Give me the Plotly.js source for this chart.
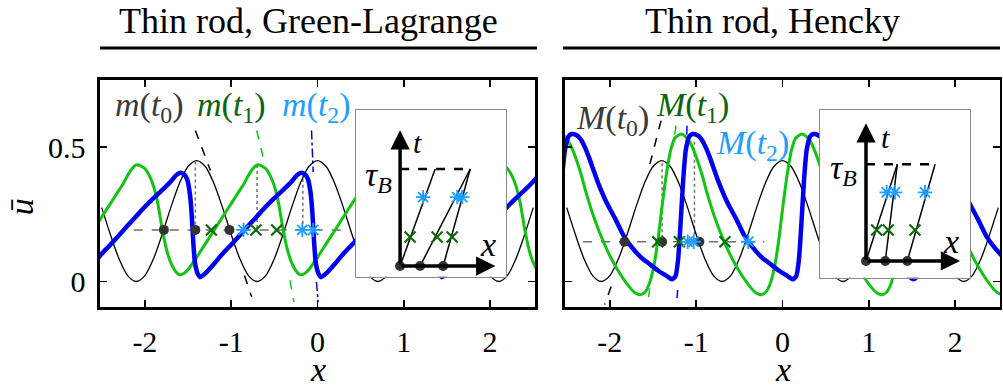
<!DOCTYPE html>
<html>
<head>
<meta charset="utf-8">
<script src="https://cdn.plot.ly/plotly-3.0.1.min.js"></script>
<style>
  html, body { margin: 0; padding: 0; background: #fff; }
  #chart { width: 1003px; height: 391px; }
</style>
</head>
<body>
<div id="chart"></div>
<script>
// Thin rod: wave profiles u(x) at t0, t1, t2 for two strain measures
var SERIF = 'Liberation Serif, Times New Roman, serif';

// t0 profile (same in both panels)
var t0X = [-2.5,-2.4,-2.3,-2.2,-2.1,-2.0,-1.9,-1.8,-1.7,-1.6,-1.5,-1.4,-1.3,-1.2,-1.1,-1.0,-0.9,-0.8,-0.7,-0.6,-0.5,-0.4,-0.3,-0.2,-0.1,0,
           0.1,0.2,0.3,0.4,0.5,0.6,0.7,0.8,0.9,1.0,1.1,1.2,1.3,1.4,1.5,1.6,1.7,1.8,1.9,2.0,2.1,2.2,2.3,2.4,2.5];
var t0U = [0.275,0.175,0.085,0.022,0,0.022,0.085,0.175,0.275,0.365,0.428,0.45,0.428,0.365,0.275,0.175,0.085,0.022,0,0.022,0.085,0.175,0.275,0.365,0.428,0.45,
           0.428,0.365,0.275,0.175,0.085,0.022,0,0.022,0.085,0.175,0.275,0.365,0.428,0.45,0.428,0.365,0.275,0.175,0.085,0.022,0,0.022,0.085,0.175,0.275];

// Green-Lagrange, t1
var glT1X = [-2.55,-2.5,-2.4,-2.3,-2.25,-2.2,-2.15,-2.1,-2.05,-2.0,-1.95,-1.9,-1.85,-1.8,-1.75,-1.7,-1.65,-1.6,-1.55,-1.5,-1.4,-1.3,-1.2,-1.1,-1.0,
             -0.9,-0.85,-0.8,-0.75,-0.7,-0.65,-0.6,-0.55,-0.5,-0.45,-0.4,-0.35,-0.3,-0.25,-0.2,-0.15,-0.1,0,0.1,0.2,0.3,0.4,0.5,0.55,0.6,
             0.65,0.7,0.75,0.8,0.85,0.9,0.95,1.0,1.05,1.1,1.15,1.2,1.25,1.3,1.4,1.5,1.6,1.7,1.8,1.9,1.95,2.0,2.05,2.1,2.15,2.2,2.25,2.3,2.35,2.4,2.45,2.5,2.55];
var glT1U = [0.215,0.24,0.29,0.34,0.365,0.395,0.42,0.434,0.43,0.42,0.395,0.355,0.29,0.196,0.12,0.07,0.04,0.025,0.03,0.045,0.09,0.14,0.19,0.24,0.29,
             0.34,0.365,0.395,0.42,0.434,0.43,0.42,0.395,0.355,0.29,0.196,0.12,0.07,0.04,0.025,0.03,0.045,0.09,0.14,0.19,0.24,0.29,0.34,0.365,0.395,
             0.42,0.434,0.43,0.42,0.395,0.355,0.29,0.196,0.12,0.07,0.04,0.025,0.03,0.045,0.09,0.14,0.19,0.24,0.29,0.34,0.365,0.395,0.42,0.434,0.43,0.42,0.395,0.355,0.29,0.196,0.12,0.07,0.04];

// Green-Lagrange, t2
var glT2X = [-2.55,-2.5,-2.4,-2.3,-2.2,-2.1,-2.0,-1.9,-1.8,-1.7,-1.64,-1.585,-1.54,-1.51,-1.48,-1.46,-1.44,-1.42,-1.39,-1.36,-1.3,-1.2,-1.1,-1.0,-0.9,
             -0.8,-0.7,-0.6,-0.5,-0.4,-0.3,-0.24,-0.185,-0.14,-0.11,-0.08,-0.06,-0.04,-0.02,0.01,0.04,0.1,0.2,0.3,0.4,0.5,0.6,0.7,0.8,0.9,
             1.0,1.1,1.16,1.215,1.26,1.29,1.32,1.34,1.36,1.38,1.41,1.44,1.5,1.6,1.7,1.8,1.9,2.0,2.1,2.2,2.3,2.4,2.5,2.55];
var glT2U = [0.085,0.103,0.137,0.172,0.208,0.243,0.278,0.31,0.34,0.372,0.395,0.405,0.397,0.38,0.33,0.26,0.15,0.07,0.03,0.016,0.03,0.065,0.103,0.137,0.172,
             0.208,0.243,0.278,0.31,0.34,0.372,0.395,0.405,0.397,0.38,0.33,0.26,0.15,0.07,0.03,0.016,0.03,0.065,0.103,0.137,0.172,0.208,0.243,0.278,0.31,
             0.34,0.372,0.395,0.405,0.397,0.38,0.33,0.26,0.15,0.07,0.03,0.016,0.03,0.065,0.103,0.137,0.172,0.208,0.243,0.278,0.31,0.34,0.372,0.39];

// Hencky, t1
var hkT1X = [-2.55,-2.5,-2.425,-2.375,-2.325,-2.275,-2.175,-2.075,-1.975,-1.875,-1.775,-1.705,-1.645,-1.595,-1.545,-1.495,-1.445,-1.395,-1.345,-1.295,
             -1.245,-1.175,-1.125,-1.075,-1.025,-0.975,-0.925,-0.875,-0.775,-0.675,-0.575,-0.475,-0.375,-0.305,-0.245,-0.195,-0.145,-0.095,-0.045,0.005,
             0.055,0.105,0.155,0.225,0.275,0.325,0.375,0.425,0.475,0.525,0.625,0.725,0.825,0.925,1.025,1.095,1.155,1.205,1.255,1.305,
             1.355,1.405,1.455,1.505,1.555,1.625,1.675,1.725,1.775,1.825,1.875,1.925,2.025,2.125,2.225,2.325,2.425,2.495,2.555];
var hkT1U = [0.547,0.532,0.485,0.44,0.39,0.33,0.23,0.148,0.08,0.025,-0.02,-0.043,-0.049,-0.04,-0.01,0.05,0.15,0.28,0.40,0.49,
             0.535,0.549,0.54,0.52,0.485,0.44,0.39,0.33,0.23,0.148,0.08,0.025,-0.02,-0.043,-0.049,-0.04,-0.01,0.05,0.15,0.28,
             0.40,0.49,0.535,0.549,0.54,0.52,0.485,0.44,0.39,0.33,0.23,0.148,0.08,0.025,-0.02,-0.043,-0.049,-0.04,-0.01,0.05,
             0.15,0.28,0.40,0.49,0.535,0.549,0.54,0.52,0.485,0.44,0.39,0.33,0.23,0.148,0.08,0.025,-0.02,-0.043,-0.049];

// Hencky, t2
var hkT2X = [-2.55,-2.52,-2.48,-2.44,-2.39,-2.34,-2.29,-2.24,-2.19,-2.14,-2.04,-1.94,-1.84,-1.74,-1.64,-1.54,-1.44,-1.34,-1.28,-1.24,
             -1.21,-1.18,-1.15,-1.12,-1.08,-1.04,-0.99,-0.94,-0.89,-0.84,-0.79,-0.74,-0.64,-0.54,-0.44,-0.34,-0.24,-0.14,-0.04,0.06,
             0.12,0.16,0.19,0.22,0.25,0.28,0.32,0.36,0.41,0.46,0.51,0.56,0.61,0.66,0.76,0.86,0.96,1.06,1.16,1.26,
             1.36,1.46,1.52,1.56,1.59,1.62,1.65,1.68,1.72,1.76,1.81,1.86,1.91,1.96,2.01,2.06,2.16,2.26,2.36,2.46,2.56];
var hkT2U = [0.40,0.49,0.54,0.549,0.545,0.53,0.50,0.46,0.415,0.37,0.295,0.235,0.17,0.125,0.09,0.065,0.04,0.02,0.008,0.02,
             0.08,0.22,0.38,0.49,0.54,0.549,0.545,0.53,0.50,0.46,0.415,0.37,0.295,0.235,0.17,0.125,0.09,0.065,0.04,0.02,
             0.008,0.02,0.08,0.22,0.38,0.49,0.54,0.549,0.545,0.53,0.50,0.46,0.415,0.37,0.295,0.235,0.17,0.125,0.09,0.065,
             0.04,0.02,0.008,0.02,0.08,0.22,0.38,0.49,0.54,0.549,0.545,0.53,0.50,0.46,0.415,0.37,0.295,0.235,0.17,0.125,0.09];

// level line with marked crossings
var glLevel = 0.192, glLevelSpan = [-2.13, 0.33];
var glDots = [-1.78, -1.415, -1.02];
var glCrosses = [-1.23, -0.713, -0.473];
var glStars = [-0.858, -0.177, -0.05];
var glDropX = [-1.415, -0.70, -0.17];
var glDropTop = [0.447, 0.434, 0.405];

var hkLevel = 0.148, hkLevelSpan = [-2.31, -0.21];
var hkDots = [-1.83, -1.395, -0.963];
var hkCrosses = [-1.445, -1.195, -0.667];
var hkStars = [-1.098, -1.029, -0.397];
var hkDropX = [-1.395, -1.02];
var hkDropTop = [0.44, 0.52];

// characteristic lines, visible pieces [x0, u0, x1, u1]
var glCharT0 = [[-1.415, 0.562, -1.24, 0.413], [-0.846, 0.022, -0.762, -0.058]];
var glCharT1 = [[-0.704, 0.562, -0.608, 0.432], [-0.319, 0.004, -0.273, -0.077]];
var glCharT2 = [[-0.069, 0.562, -0.05, 0.407], [-0.012, -0.002, 0.008, -0.077]];
var hkCharT0 = [[-1.407, 0.599, -1.56, 0.407], [-1.985, -0.019, -2.06, -0.086]];
var hkCharT1 = [[-1.233, 0.58, -1.27, 0.506], [-1.54, -0.025, -1.553, -0.068]];
var hkCharT2 = [[-1.106, 0.58, -1.114, 0.506], [-1.214, -0.031, -1.222, -0.062]];

// insets: x-t diagram of the three characteristics
var glInsetFoot = [0, 0.206, 0.443], glInsetTop = [0.361, 0.722, 0.722];
var glInsetT1 = 0.30, glInsetX1 = [0.103, 0.381, 0.536];
var glInsetT2 = 0.71, glInsetX2 = [0.237, 0.588, 0.639];
var hkInsetFoot = [0, 0.199, 0.427], hkInsetTop = [0.324, 0.324, 0.714];
var hkInsetT1 = 0.32, hkInsetX1 = [0.110, 0.230, 0.506];
var hkInsetT2 = 0.71, hkInsetX2 = [0.214, 0.300, 0.610];

var xTicks = [-2, -1, 0, 1, 2], xTickText = ['-2', '-1', '0', '1', '2'];
var yTicks = [0, 0.5], yTickText = ['0', '0.5'];

var COL_T0 = '#000000', COL_T1 = '#12C412', COL_T2 = '#0000F0';
var LAB_T0 = '#3a3a3a', LAB_T1 = '#0B650B', LAB_T2 = '#1E9EFF';
var DOT = '#333333', CROSS = '#0B6B0B', STAR = '#1E9EFF', GUIDE = '#6e6e6e';

function pieces(list) {
  var xs = [], ys = [];
  list.forEach(function (p) { xs.push(p[0], p[2], null); ys.push(p[1], p[3], null); });
  return { x: xs, y: ys };
}

function panel(xa, ya, d) {
  var tr = [];
  var dx = [], dy = [];
  d.dropX.forEach(function (v, i) { dx.push(v, v, null); dy.push(d.dropTop[i], d.level, null); });
  tr.push({ x: dx, y: dy, xaxis: xa, yaxis: ya, mode: 'lines', line: { color: GUIDE, width: 1.5, dash: 'dot' } });
  tr.push({ x: d.span, y: [d.level, d.level], xaxis: xa, yaxis: ya, mode: 'lines', line: { color: GUIDE, width: 1.5, dash: 'dash' } });
  [[d.c0, COL_T0, 'dash'], [d.c1, COL_T1, 'dash'], [d.c2, COL_T2, 'dashdot']].forEach(function (c) {
    var s = pieces(c[0]);
    tr.push({ x: s.x, y: s.y, xaxis: xa, yaxis: ya, mode: 'lines', line: { color: c[1], width: 1.5, dash: c[2] } });
  });
  tr.push({ x: t0X, y: t0U, xaxis: xa, yaxis: ya, mode: 'lines', line: { color: COL_T0, width: 1.3, shape: 'spline', smoothing: 0.8 } });
  tr.push({ x: d.x1, y: d.u1, xaxis: xa, yaxis: ya, mode: 'lines', line: { color: COL_T1, width: 3, shape: 'spline', smoothing: 0.6 } });
  tr.push({ x: d.x2, y: d.u2, xaxis: xa, yaxis: ya, mode: 'lines', line: { color: COL_T2, width: 4.5, shape: 'spline', smoothing: 0.6 } });
  var lv = function (arr) { return arr.map(function () { return d.level; }); };
  tr.push({ x: d.dots, y: lv(d.dots), xaxis: xa, yaxis: ya, mode: 'markers', marker: { symbol: 'circle', size: 10, color: DOT } });
  tr.push({ x: d.crosses, y: lv(d.crosses), xaxis: xa, yaxis: ya, mode: 'markers', marker: { symbol: 'x-thin', size: 11, line: { color: CROSS, width: 2.2 } } });
  tr.push({ x: d.stars, y: lv(d.stars), xaxis: xa, yaxis: ya, mode: 'markers', marker: { symbol: 'asterisk', size: 12, line: { color: STAR, width: 1.8 } } });
  return tr;
}

function inset(xa, ya, d) {
  var tr = [], cx = [], cy = [];
  d.foot.forEach(function (v, i) { cx.push(v, d.top[i], null); cy.push(0, 1, null); });
  tr.push({ x: [0, Math.max.apply(null, d.top)], y: [1, 1], xaxis: xa, yaxis: ya, mode: 'lines', line: { color: '#000', width: 2.5, dash: 'dash' } });
  tr.push({ x: cx, y: cy, xaxis: xa, yaxis: ya, mode: 'lines', line: { color: '#000', width: 1.5 } });
  tr.push({ x: d.foot, y: d.foot.map(function () { return 0; }), xaxis: xa, yaxis: ya, mode: 'markers', marker: { symbol: 'circle', size: 10, color: DOT } });
  tr.push({ x: d.x1, y: d.x1.map(function () { return d.t1; }), xaxis: xa, yaxis: ya, mode: 'markers', marker: { symbol: 'x-thin', size: 11, line: { color: CROSS, width: 2.2 } } });
  tr.push({ x: d.x2, y: d.x2.map(function () { return d.t2; }), xaxis: xa, yaxis: ya, mode: 'markers', marker: { symbol: 'asterisk', size: 12, line: { color: STAR, width: 1.8 } } });
  return tr;
}

var traces = [].concat(
  panel('x', 'y', { x1: glT1X, u1: glT1U, x2: glT2X, u2: glT2U, level: glLevel, span: glLevelSpan, dots: glDots, crosses: glCrosses, stars: glStars,
                    dropX: glDropX, dropTop: glDropTop, c0: glCharT0, c1: glCharT1, c2: glCharT2 }),
  panel('x2', 'y2', { x1: hkT1X, u1: hkT1U, x2: hkT2X, u2: hkT2U, level: hkLevel, span: hkLevelSpan, dots: hkDots, crosses: hkCrosses, stars: hkStars,
                      dropX: hkDropX, dropTop: hkDropTop, c0: hkCharT0, c1: hkCharT1, c2: hkCharT2 }),
  inset('x3', 'y3', { foot: glInsetFoot, top: glInsetTop, t1: glInsetT1, x1: glInsetX1, t2: glInsetT2, x2: glInsetX2 }),
  inset('x4', 'y4', { foot: hkInsetFoot, top: hkInsetTop, t1: hkInsetT1, x1: hkInsetX1, t2: hkInsetT2, x2: hkInsetX2 })
);

function mainX(dom, anchor) {
  return { domain: dom, anchor: anchor, range: [-2.52, 2.52], tickvals: xTicks, ticktext: xTickText,
           ticks: 'inside', ticklen: 7, tickwidth: 1.5, tickcolor: '#000', ticklabelstandoff: 6,
           showline: true, linewidth: 2.5, linecolor: '#000', mirror: 'ticks', showgrid: false, zeroline: false,
           tickfont: { family: SERIF, size: 30, color: '#000' }, fixedrange: true };
}
function mainY(anchor, labels) {
  return { domain: [0.2148, 0.7954], anchor: anchor, range: [-0.095, 0.75], tickvals: yTicks, ticktext: yTickText,
           showticklabels: labels, ticks: 'inside', ticklen: 7, tickwidth: 1.5, tickcolor: '#000', ticklabelstandoff: 6,
           showline: true, linewidth: 2.5, linecolor: '#000', mirror: 'ticks', showgrid: false, zeroline: false,
           tickfont: { family: SERIF, size: 30, color: '#000' }, fixedrange: true };
}
function insetAxis(dom, anchor, range) {
  return { domain: dom, anchor: anchor, range: range, showline: true, mirror: true, linecolor: '#8a8a8a', linewidth: 1.2,
           ticks: '', showticklabels: false, showgrid: false, zeroline: false, fixedrange: true };
}

function txt(text, x, y, xref, yref, size, color, extra) {
  var a = { text: text, x: x, y: y, xref: xref, yref: yref, showarrow: false, xanchor: 'center', yanchor: 'middle',
            font: { family: SERIF, size: size, color: color } };
  if (extra) Object.keys(extra).forEach(function (k) { a[k] = extra[k]; });
  return a;
}
function arrow(xr, yr, x, y) {
  return { xref: xr, yref: yr, axref: xr, ayref: yr, x: x, y: y, ax: 0, ay: 0, text: '', showarrow: true,
           arrowhead: 2, arrowsize: 1.1, arrowwidth: 3.5, arrowcolor: '#000', standoff: 0, startstandoff: 0 };
}

var annotations = [
  txt('Thin rod, Green-Lagrange', 0.308, 0.946, 'paper', 'paper', 36, '#000'),
  txt('Thin rod, Hencky', 0.770, 0.946, 'paper', 'paper', 36, '#000'),
  txt('<i>ū</i>', 0.021, 0.47, 'paper', 'paper', 34, '#000', { textangle: -90 }),
  txt('<i>x</i>', 0.317, 0.055, 'paper', 'paper', 34, '#000'),
  txt('<i>x</i>', 0.781, 0.055, 'paper', 'paper', 34, '#000'),
  txt('<i>m</i>(<i>t</i><sub>0</sub>)', -1.943, 0.65, 'x', 'y', 34, LAB_T0),
  txt('<i>m</i>(<i>t</i><sub>1</sub>)', -0.993, 0.65, 'x', 'y', 34, LAB_T1),
  txt('<i>m</i>(<i>t</i><sub>2</sub>)', -0.008, 0.65, 'x', 'y', 34, LAB_T2),
  txt('<i>M</i>(<i>t</i><sub>0</sub>)', -1.964, 0.601, 'x2', 'y2', 34, LAB_T0),
  txt('<i>M</i>(<i>t</i><sub>1</sub>)', -1.037, 0.65, 'x2', 'y2', 34, LAB_T1),
  txt('<i>M</i>(<i>t</i><sub>2</sub>)', -0.353, 0.508, 'x2', 'y2', 34, LAB_T2),
  arrow('x3', 'y3', 0, 1.40), arrow('x3', 'y3', 0.98, 0),
  arrow('x4', 'y4', 0, 1.424), arrow('x4', 'y4', 0.972, 0),
  txt('<i>t</i>', 0.175, 1.27, 'x3', 'y3', 30, '#000'),
  txt('<i>x</i>', 0.90, 0.22, 'x3', 'y3', 34, '#000'),
  txt('<i>τ</i><sub><i>B</i></sub>', -0.227, 0.918, 'x3', 'y3', 34, '#000'),
  txt('<i>t</i>', 0.20, 1.28, 'x4', 'y4', 30, '#000'),
  txt('<i>x</i>', 0.88, 0.20, 'x4', 'y4', 34, '#000'),
  txt('<i>τ</i><sub><i>B</i></sub>', -0.23, 0.94, 'x4', 'y4', 34, '#000')
];

var layout = {
  width: 1003, height: 391,
  margin: { l: 0, r: 0, t: 0, b: 0 },
  paper_bgcolor: '#fff', plot_bgcolor: '#fff',
  font: { family: SERIF, color: '#000' },
  showlegend: false, hovermode: false,
  xaxis: mainX([0.0997, 0.5334], 'y'),
  yaxis: mainY('x', true),
  xaxis2: mainX([0.5633, 0.9970], 'y2'),
  yaxis2: mainY('x2', false),
  xaxis3: insetAxis([0.3549, 0.5045], 'y3', [-0.454, 1.09]),
  yaxis3: insetAxis([0.2923, 0.7187], 'x3', [-0.11, 1.608]),
  xaxis4: insetAxis([0.8175, 0.9671], 'y4', [-0.476, 1.075]),
  yaxis4: insetAxis([0.2898, 0.7187], 'x4', [-0.173, 1.561]),
  shapes: [
    { type: 'line', xref: 'paper', yref: 'paper', x0: 0.0997, x1: 0.5354, y0: 0.8772, y1: 0.8772, line: { color: '#000', width: 3 } },
    { type: 'line', xref: 'paper', yref: 'paper', x0: 0.5613, x1: 0.9970, y0: 0.8772, y1: 0.8772, line: { color: '#000', width: 3 } }
  ],
  annotations: annotations
};

Plotly.newPlot('chart', traces, layout, { displayModeBar: false, staticPlot: true });
</script>
</body>
</html>
